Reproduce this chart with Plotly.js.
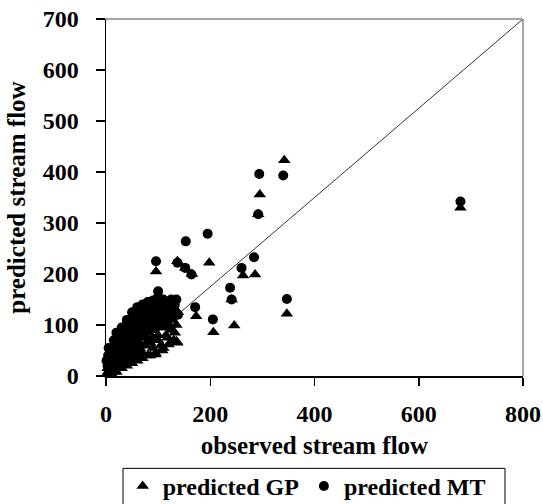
<!DOCTYPE html>
<html><head><meta charset="utf-8">
<script src="https://cdn.plot.ly/plotly-3.0.1.min.js"></script>
<style>html,body{margin:0;padding:0;background:#fff}#chart{width:543px;height:504px}</style>
</head><body><div id="chart"></div>
<script>
// observed / predicted stream flow
const gpObserved = [2,3,5,6,8,10,12,13,15,17,18,20,22,24,25,27,28,30,32,34,35,38,40,42,45,48,50,52,55,58,60,62,65,68,70,72,75,78,80,82,85,88,90,92,95,98,100,105,108,112,115,118,122,125,128,132,135,138,
  10,20,30,40,50,60,70,85,95,110,120,130,137,45,55,65,75,85,100,115,125,135,105,90,
  15,25,35,45,55,65,75,85,95,105,115,125,10,30,50,70,90,110,60,80,
  100,96,137,152,165,173,198,206,246,241,263,286,292,295,342,347,680];
const gpPredicted = [5,15,10,25,3,18,30,8,22,12,40,28,15,45,35,20,55,38,25,50,62,42,30,55,70,48,38,60,80,52,42,68,90,60,45,75,95,65,40,85,100,72,55,90,45,110,80,60,50,95,120,75,100,130,110,85,68,125,
  5,8,15,20,25,30,35,40,42,55,62,70,65,35,45,55,60,65,70,80,90,100,95,75,
  35,50,40,55,65,75,80,90,100,110,105,115,25,60,70,85,95,120,100,110,
  160,205,225,212,200,117,222,86,99,150,197,199,317,356,423,122,330];
const mtObserved = [1,3,4,6,8,10,12,14,15,17,18,20,22,24,25,27,28,30,32,34,35,38,40,42,45,48,50,52,55,58,60,62,65,68,70,72,75,78,80,82,85,88,90,92,95,98,100,105,108,112,115,118,122,125,128,132,135,138,
  5,15,20,30,40,50,60,70,80,90,110,120,130,45,55,65,75,85,95,105,115,125,35,25,
  8,18,28,38,48,58,68,78,88,98,108,118,12,22,32,42,52,62,72,82,
  100,96,137,152,153,164,171,195,205,238,241,260,284,292,294,340,347,680];
const mtPredicted = [30,20,40,12,35,50,25,55,40,62,30,45,70,52,85,60,40,75,55,90,68,80,100,65,92,75,110,88,100,120,80,105,125,95,130,110,90,120,140,105,128,115,135,100,125,145,115,135,120,140,100,130,145,150,135,140,150,120,
  55,70,85,95,110,125,135,140,145,148,150,140,130,60,70,85,100,110,115,105,120,125,45,30,
  20,55,80,95,100,110,118,130,140,130,140,145,45,60,65,85,95,115,125,125,
  166,225,222,212,264,199,135,279,111,173,150,212,233,317,396,393,151,342];
const lineX = [0,800];
const lineY = [0,700];
const xTicks = [0,200,400,600,800];
const yTicks = [0,100,200,300,400,500,600,700];

const serif = "Liberation Serif, Times New Roman, serif";
const traces = [
  {x: lineX, y: lineY, mode: 'lines', line: {color: '#333', width: 1}, showlegend: false, hoverinfo: 'skip'},
  {x: gpObserved, y: gpPredicted, mode: 'markers', name: 'predicted GP', cliponaxis: false,
   marker: {symbol: 'triangle-up', size: 11, color: '#000'}},
  {x: mtObserved, y: mtPredicted, mode: 'markers', name: 'predicted MT', cliponaxis: false,
   marker: {symbol: 'circle', size: 10, color: '#000'}}
];
const tickFont = {family: serif, size: 24, color: '#000', weight: 'bold'};
const titleFont = {family: serif, size: 25, color: '#000', weight: 'bold'};
const layout = {
  width: 543, height: 504,
  margin: {l: 106, r: 20, t: 19, b: 127.5, autoexpand: false},
  paper_bgcolor: '#fff', plot_bgcolor: '#fff',
  showlegend: true,
  xaxis: {range: [0, 800], tickvals: xTicks, ticktext: xTicks.map(String), showgrid: false, zeroline: false,
    showline: true, linecolor: '#000', linewidth: 1.5, ticks: 'outside', ticklen: 8, tickcolor: '#000', tickwidth: 1.5,
    tickfont: tickFont, ticklabelstandoff: 8,
    title: {text: 'observed stream flow', font: titleFont, standoff: 10}},
  yaxis: {range: [0, 700], tickvals: yTicks, ticktext: yTicks.map(String), showgrid: false, zeroline: false,
    showline: true, linecolor: '#000', linewidth: 1.5, ticks: 'outside', ticklen: 9, tickcolor: '#000', tickwidth: 1.5,
    tickfont: tickFont, ticklabelstandoff: 12,
    title: {text: 'predicted stream flow', font: titleFont, standoff: 10}},
  shapes: [
    {type: 'line', xref: 'paper', yref: 'paper', x0: 0, x1: 1, y0: 1, y1: 1, line: {color: '#888', width: 1.5}},
    {type: 'line', xref: 'paper', yref: 'paper', x0: 1, x1: 1, y0: 0, y1: 1, line: {color: '#888', width: 1.5}},
    {type: 'rect', xref: 'paper', yref: 'paper', x0: 0.0408, x1: 0.9568, y0: -0.2587, y1: -0.4, line: {color: '#000', width: 1}, fillcolor: 'rgba(0,0,0,0)'}
  ],
  legend: {orientation: 'h', x: 0.04, xanchor: 'left', y: -0.246, yanchor: 'top',
    borderwidth: 0, bgcolor: 'rgba(0,0,0,0)', itemwidth: 30,
    font: {family: serif, size: 24, color: '#000', weight: 'bold'}}
};
Plotly.newPlot('chart', traces, layout, {displayModeBar: false, staticPlot: true});
</script></body></html>
